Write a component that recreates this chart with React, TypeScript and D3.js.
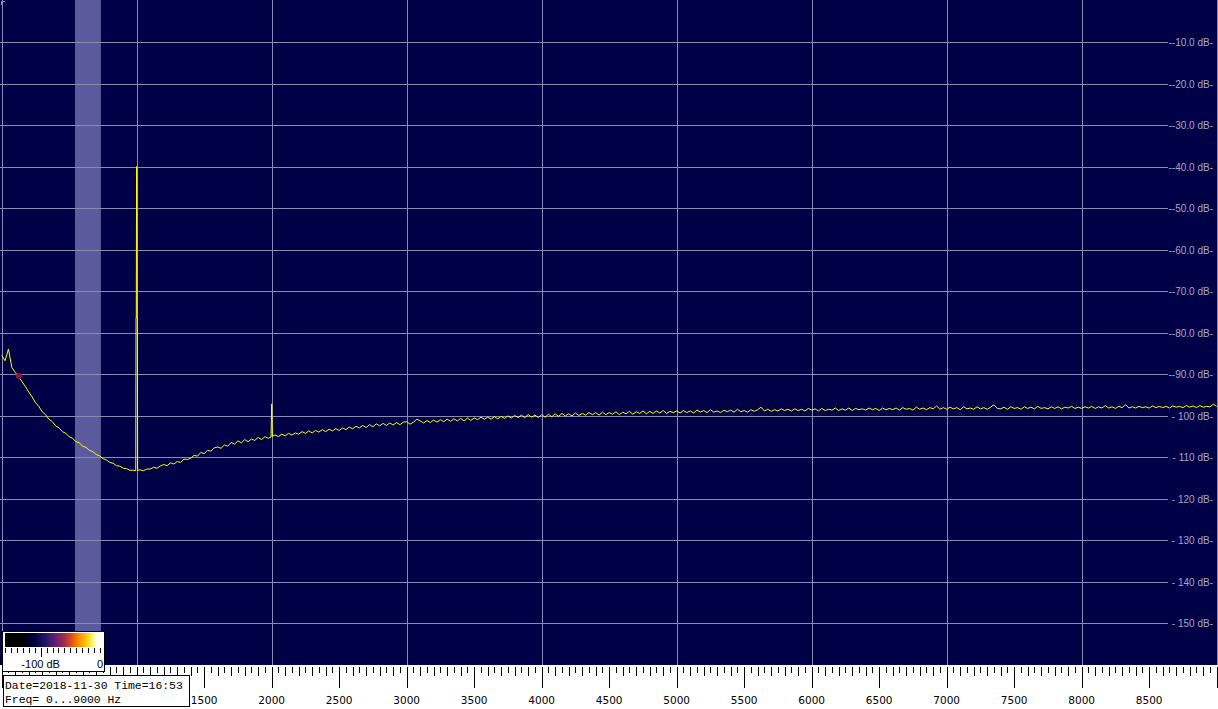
import React from "react";
import * as d3 from "d3";

const W = 1218;
const H = 709;

// Spectrum level (dB) sampled every 25 Hz from 0 to 9000 Hz
const freqStepHz = 25;
const spectrumDb = [
  -85.5, -86.8, -84.0, -88.4, -89.6, -90.6, -91.8, -93.0,
  -94.3, -95.5, -96.9, -97.8, -99.1, -99.8, -100.9, -101.5,
  -102.5, -103.0, -103.9, -104.3, -105.1, -105.5, -106.3, -106.6,
  -107.4, -107.7, -108.4, -108.7, -109.4, -109.7, -110.4, -110.7,
  -111.3, -111.5, -112.1, -112.2, -112.7, -112.8, -113.2, -113.2,
  -113.4, -113.1, -113.3, -112.9, -112.9, -112.5, -112.7, -112.2,
  -111.8, -112.1, -111.4, -111.7, -111.1, -111.3, -110.5, -110.6,
  -110.3, -109.6, -109.8, -108.9, -109.2, -108.4, -108.6, -107.8,
  -107.6, -107.9, -107.1, -107.4, -106.5, -106.9, -106.1, -106.6,
  -105.8, -106.3, -105.7, -106.0, -105.3, -105.8, -105.1, -105.5,
  -105.2, -104.7, -105.1, -104.5, -104.9, -104.3, -104.7, -104.2,
  -104.5, -103.9, -104.3, -103.7, -104.2, -103.6, -104.0, -103.4,
  -103.9, -103.3, -103.7, -103.2, -103.6, -103.0, -103.4, -102.8,
  -103.2, -102.6, -103.0, -102.4, -102.9, -102.2, -102.7, -102.0,
  -102.5, -101.9, -102.4, -101.8, -102.3, -101.7, -102.2, -101.6,
  -101.5, -102.1, -101.6, -100.9, -101.3, -101.8, -101.2, -101.7,
  -101.1, -101.6, -101.0, -101.5, -100.9, -101.4, -100.8, -101.3,
  -100.7, -101.3, -100.6, -101.2, -100.6, -101.0, -100.4, -100.9,
  -100.4, -100.9, -100.3, -100.8, -100.2, -100.7, -100.1, -100.6,
  -100.0, -100.5, -99.9, -100.5, -99.8, -100.4, -99.9, -100.5,
  -99.8, -100.4, -99.7, -100.3, -99.6, -100.2, -99.5, -100.1,
  -99.6, -100.1, -99.4, -100.0, -99.5, -99.9, -99.3, -99.8,
  -99.3, -99.9, -99.2, -99.8, -99.3, -99.7, -99.1, -99.8,
  -99.2, -99.6, -99.0, -99.7, -99.1, -99.5, -98.9, -99.6,
  -99.0, -99.5, -98.9, -99.4, -98.8, -99.5, -99.0, -99.3,
  -98.9, -99.4, -98.8, -99.3, -98.9, -99.4, -98.7, -99.2,
  -98.8, -99.3, -98.6, -99.2, -98.9, -99.3, -98.7, -99.1,
  -98.7, -99.2, -98.5, -99.1, -98.8, -99.2, -98.6, -99.0,
  -98.6, -98.0, -98.9, -98.5, -99.0, -98.6, -98.9, -98.4,
  -98.8, -98.5, -98.9, -98.4, -98.8, -98.5, -98.9, -98.3,
  -98.7, -98.4, -98.9, -98.3, -98.8, -98.5, -98.7, -98.2,
  -98.8, -98.4, -98.7, -98.2, -98.8, -98.3, -98.6, -98.4,
  -98.7, -98.2, -98.6, -98.3, -98.8, -98.2, -98.6, -98.3,
  -98.6, -98.2, -98.7, -98.1, -98.5, -98.3, -98.7, -98.0,
  -98.5, -98.2, -98.6, -98.1, -98.4, -97.7, -98.5, -98.1,
  -98.5, -98.0, -98.4, -98.1, -98.6, -97.9, -98.4, -98.2,
  -98.5, -97.9, -98.4, -98.1, -98.5, -98.0, -97.4, -98.3,
  -98.4, -98.0, -98.5, -97.9, -98.3, -98.1, -98.5, -97.9,
  -98.3, -98.0, -98.4, -97.8, -98.3, -98.1, -98.4, -97.9,
  -98.3, -97.9, -98.4, -98.0, -98.2, -97.8, -98.3, -98.0,
  -98.3, -97.9, -98.2, -97.8, -98.3, -97.9, -98.2, -97.6,
  -98.2, -97.9, -98.3, -97.8, -98.1, -97.4, -98.2, -97.9,
  -98.2, -97.8, -98.1, -97.9, -98.2, -97.7, -98.1, -97.8,
  -98.1, -97.8, -98.2, -97.7, -98.0, -97.8, -98.1, -97.6,
  -98.0, -97.7, -98.1, -97.6, -98.0, -97.8, -97.9, -97.3,
  -97.8,
];

// Narrow tones (1 kHz and 2 kHz)
const peakFreqs = [993, 995, 997, 999, 1000, 1001, 1003, 1005, 1007, 1995, 2000, 2005];
const peakDb = [-113.3, -76.5, -76.5, -40.0, -40.0, -40.0, -76.5, -76.5, -113.2, -105.2, -97.2, -105.0];

const yTicksDb = [-10, -20, -30, -40, -50, -60, -70, -80, -90, -100, -110, -120, -130, -140, -150];
const gridFreqs = [0, 1000, 2000, 3000, 4000, 5000, 6000, 7000, 8000, 9000];
const xLabelFreqs = [1500, 2000, 2500, 3000, 3500, 4000, 4500, 5000, 5500, 6000, 6500, 7000, 7500, 8000, 8500];
const bandStartHz = 543;
const bandEndHz = 735;
const markerHz = 128;
const markerDb = -90.5;
const infoLines = ["Date=2018-11-30 Time=16:53", "Freq= 0...9000 Hz"];
const cbarTickDb = [-160, -150, -140, -130, -120, -110, -100, -90, -80, -70, -60, -50, -40, -30, -20, -10, 0];
const cbarLabelDb = [-100, 0];
const cbarLabelText = ["-100 dB", "0"];
const cbarStops = [
  [0, "#000000"], [0.16, "#000000"], [0.3, "#00003c"], [0.42, "#24186a"],
  [0.52, "#682070"], [0.6, "#a02850"], [0.68, "#e05014"], [0.76, "#ff9400"],
  [0.86, "#ffe020"], [0.92, "#ffffc0"], [0.96, "#ffffff"], [1, "#ffffff"],
];

const BG = "#000046";
const GRID = "#8a8ab6";

export default function App() {
  const x = d3.scaleLinear().domain([0, 9000]).range([1.7, 1216.7]);
  const y = d3.scaleLinear().domain([0, -160]).range([0.5, 664.5]);
  const cb = d3.scaleLinear().domain([-160, 0]).range([5, 100]);

  const base = spectrumDb
    .map((d, i) => ({ f: i * freqStepHz, d }))
    .filter((p) => !peakFreqs.some((pf) => Math.abs(pf - p.f) < 8));
  const peaks = peakFreqs.map((f, i) => ({ f, d: peakDb[i] }));
  const pts = base.concat(peaks).sort((a, b) => a.f - b.f);
  const line = d3
    .line<{ f: number; d: number }>()
    .x((p) => x(p.f))
    .y((p) => y(p.d));

  const minorTicks = d3.range(0, 9001, 50);
  const plotBottom = 665;

  return (
    <>
      <style>{`body{margin:0;background:#fff}`}</style>
      <svg width={W} height={H} style={{ display: "block" }}>
        <defs>
          <linearGradient id="cbar" x1="0" x2="1" y1="0" y2="0">
            {cbarStops.map(([o, c], i) => (
              <stop key={i} offset={o as number} stopColor={c as string} />
            ))}
          </linearGradient>
        </defs>
        <rect x={0} y={0} width={W} height={plotBottom} fill={BG} />
        <rect
          x={x(bandStartHz)}
          y={0}
          width={x(bandEndHz) - x(bandStartHz)}
          height={plotBottom}
          fill="#5a5a9c"
        />
        {yTicksDb.map((v) => (
          <line key={v} x1={0} x2={1168} y1={Math.round(y(v)) + 0.5} y2={Math.round(y(v)) + 0.5} stroke={GRID} strokeWidth={1} />
        ))}
        {gridFreqs.map((f) => (
          <line key={f} x1={Math.round(x(f)) + 0.5} x2={Math.round(x(f)) + 0.5} y1={0} y2={plotBottom} stroke={GRID} strokeWidth={1} />
        ))}
        {yTicksDb.map((v) => (
          <text
            key={v}
            x={1213}
            y={Math.round(y(v)) + 4}
            textAnchor="end"
            fontFamily="Liberation Sans, Arial, sans-serif"
            fontSize={10}
            fill="#a6a6c6"
          >
            {v > -100 ? `--${Math.abs(v).toFixed(1)} dB-` : `- ${Math.abs(v)} dB-`}
          </text>
        ))}
        <path d={line(pts) || ""} fill="none" stroke="#ffff00" strokeWidth={1} />
        <circle cx={x(markerHz)} cy={y(markerDb)} r={3} fill="#8a1838" />
        <path d="M1.5,5 L1.5,1.5 L5,1.5" fill="none" stroke="#40c080" strokeWidth={1} />

        <rect x={0} y={plotBottom} width={W} height={H - plotBottom} fill="#ffffff" />
        {minorTicks.map((f) => {
          const major = f % 500 === 0;
          const len = major ? 21 : f % 100 === 0 ? 9 : 6;
          const xx = Math.round(x(f)) + 0.5;
          return <line key={f} x1={xx} x2={xx} y1={667} y2={667 + len} stroke="#000" strokeWidth={1} />;
        })}
        {xLabelFreqs.map((f) => (
          <text
            key={f}
            x={x(f)}
            y={704}
            textAnchor="middle"
            fontFamily="DejaVu Sans, Verdana, sans-serif"
            fontSize={10.5}
            fill="#000"
          >
            {f}
          </text>
        ))}

        <rect x={2.5} y={631.5} width={102} height={40} fill="#fff" stroke="#000" strokeWidth={1} />
        <rect x={5} y={633} width={98} height={14} fill="url(#cbar)" />
        {cbarTickDb.map((v) => {
          const xx = Math.round(cb(v)) + 0.5;
          return <line key={v} x1={xx} x2={xx} y1={648} y2={v === -100 ? 657 : 653} stroke="#000" strokeWidth={1} />;
        })}
        {cbarLabelDb.map((v, i) => (
          <text
            key={v}
            x={cb(v)}
            y={668}
            textAnchor="middle"
            fontFamily="Liberation Sans, Arial, sans-serif"
            fontSize={11}
            fill="#000"
          >
            {cbarLabelText[i]}
          </text>
        ))}

        <rect x={3.5} y={675.5} width={186} height={31} fill="#fff" stroke="#000" strokeWidth={1} />
        {infoLines.map((t, i) => (
          <text
            key={i}
            x={5}
            y={689 + i * 14}
            fontFamily="Liberation Mono, Courier New, monospace"
            fontSize={11.4}
            fill="#000"
          >
            {t}
          </text>
        ))}
      </svg>
    </>
  );
}
